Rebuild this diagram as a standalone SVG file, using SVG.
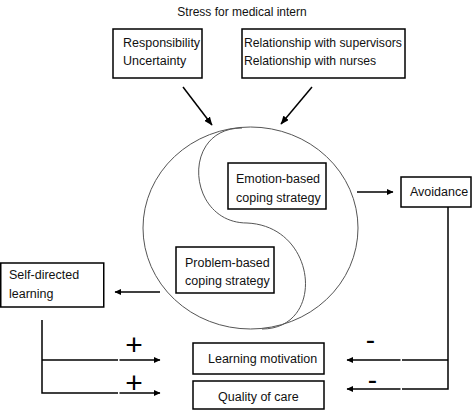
<svg xmlns="http://www.w3.org/2000/svg" width="473" height="410" viewBox="0 0 473 410">
<defs>
<marker id="ah" markerWidth="9" markerHeight="7" refX="8" refY="3.5" orient="auto" markerUnits="userSpaceOnUse">
<path d="M0,0 L8.5,3.5 L0,7 z" fill="#000"/>
</marker>
<marker id="sh" markerWidth="7" markerHeight="6" refX="6" refY="3" orient="auto" markerUnits="userSpaceOnUse">
<path d="M0,0 L6.5,3 L0,6 z" fill="#000"/>
</marker>
<style>
.t{font-family:"Liberation Sans",Arial,Helvetica,sans-serif;font-size:12.5px;fill:#111}
.b{fill:#fff;stroke:#000;stroke-width:1.5}
.c{fill:none;stroke:#000;stroke-width:1.5}
.y{fill:none;stroke:#555;stroke-width:1}
.s{font-family:"Liberation Sans",Arial,Helvetica,sans-serif;fill:#000}
</style>
</defs>
<rect width="473" height="410" fill="#fff"/>
<text class="t" x="242" y="16" text-anchor="middle" style="font-size:12px">Stress for medical intern</text>

<g id="yinyang">
<ellipse class="y" cx="250.5" cy="228" rx="107.5" ry="101"/>
<path class="y" d="M242,128 C180,128 187,223 247,223 C318,226 326,329 262,329"/>
</g>

<g id="connectors">
<line class="c" x1="183" y1="87" x2="212" y2="125" marker-end="url(#ah)"/>
<line class="c" x1="312" y1="87" x2="281" y2="124" marker-end="url(#ah)"/>
<line class="c" x1="357" y1="192" x2="393" y2="192" marker-end="url(#sh)"/>
<line class="c" x1="160" y1="292" x2="115" y2="292" marker-end="url(#sh)"/>
<polyline class="c" points="42,320 42,393 118,393"/>
<line class="c" x1="42" y1="360" x2="118" y2="360"/>
<line class="c" x1="119.5" y1="360" x2="160" y2="360" marker-end="url(#sh)"/>
<line class="c" x1="119.5" y1="393" x2="160" y2="393" marker-end="url(#sh)"/>
<polyline class="c" points="448,207 448,389 402,389"/>
<line class="c" x1="448" y1="360" x2="402" y2="360"/>
<line class="c" x1="400.5" y1="360" x2="347" y2="360" marker-end="url(#sh)"/>
<line class="c" x1="400.5" y1="389" x2="347" y2="389" marker-end="url(#sh)"/>
<text class="s" x="134" y="354.5" text-anchor="middle" font-size="30">+</text>
<text class="s" x="134" y="393" text-anchor="middle" font-size="30">+</text>
<text class="s" x="370.5" y="348.5" text-anchor="middle" font-size="28">-</text>
<text class="s" x="372.5" y="389" text-anchor="middle" font-size="28">-</text>
</g>

<g id="n-responsibility">
<rect class="b" x="113" y="29" width="89" height="49"/>
<text class="t" x="123" y="47">Responsibility</text>
<text class="t" x="123" y="65">Uncertainty</text>
</g>
<g id="n-relationship">
<rect class="b" x="242" y="29" width="163" height="49"/>
<text class="t" x="244" y="47" style="font-size:12.2px">Relationship with supervisors</text>
<text class="t" x="244" y="65" style="font-size:12.2px">Relationship with nurses</text>
</g>
<g id="n-emotion">
<rect class="b" x="228" y="163" width="98" height="46"/>
<text class="t" x="236" y="183">Emotion-based</text>
<text class="t" x="236" y="202">coping strategy</text>
</g>
<g id="n-problem">
<rect class="b" x="176" y="247" width="98" height="46"/>
<text class="t" x="185" y="267">Problem-based</text>
<text class="t" x="185" y="285">coping strategy</text>
</g>
<g id="n-avoidance">
<rect class="b" x="401" y="177" width="70" height="30"/>
<text class="t" x="410" y="196">Avoidance</text>
</g>
<g id="n-selfdirected">
<rect class="b" x="0.75" y="263" width="103" height="44"/>
<text class="t" x="9" y="279">Self-directed</text>
<text class="t" x="9" y="298">learning</text>
</g>
<g id="n-motivation">
<rect class="b" x="193" y="343" width="131" height="31"/>
<text class="t" x="208" y="363">Learning motivation</text>
</g>
<g id="n-quality">
<rect class="b" x="193" y="381" width="131" height="28"/>
<text class="t" x="218" y="401">Quality of care</text>
</g>
</svg>
